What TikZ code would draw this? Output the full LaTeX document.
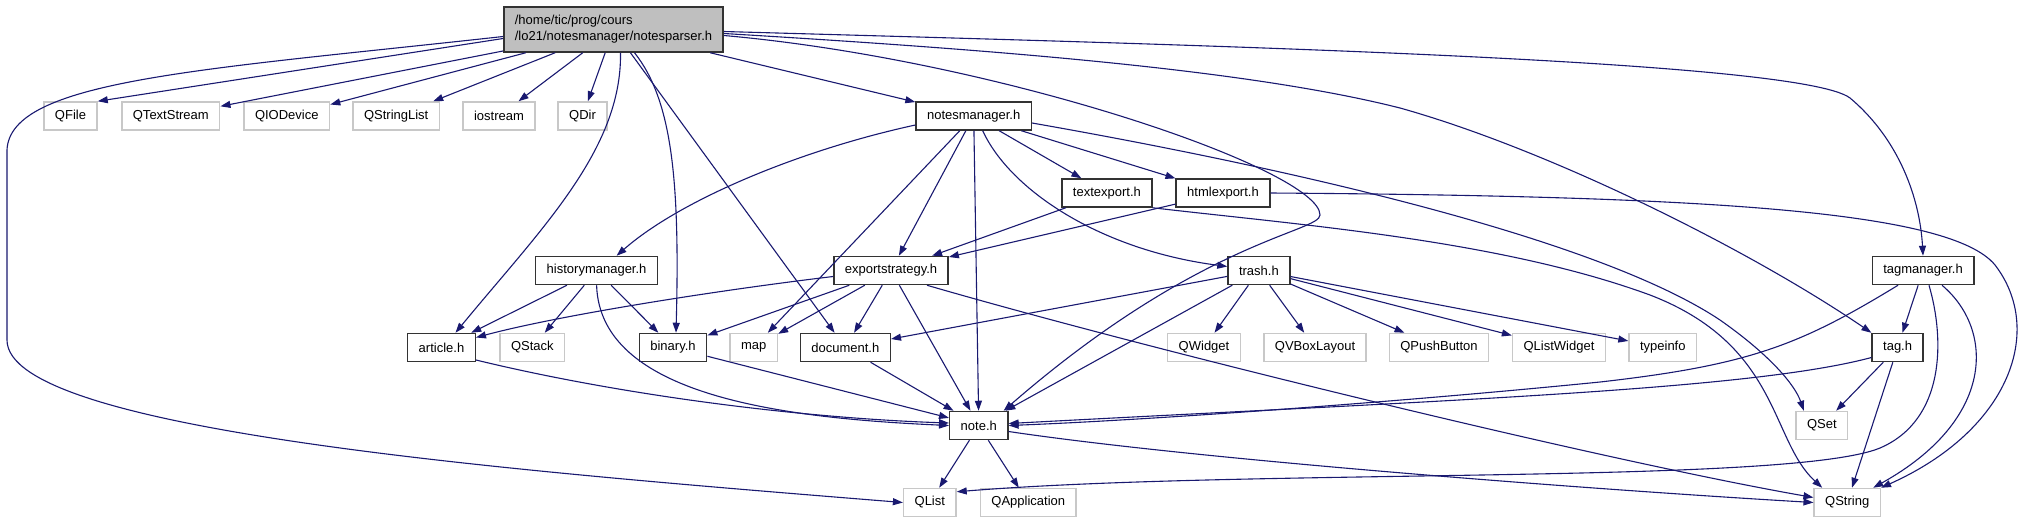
\documentclass[tikz,border=0pt]{standalone}
\usepackage{fontspec}
\setmainfont{Liberation Sans}
\usetikzlibrary{arrows.meta}
\definecolor{edgeblue}{HTML}{191970}
\definecolor{rootgray}{HTML}{BFBFBF}
\definecolor{extgray}{HTML}{C8C8C8}

\begin{document}
\begin{tikzpicture}
  [x=1pt,y=-1pt,
   every node/.style={rectangle,fill=white,draw=black!80,line width=1.5pt,inner xsep=11pt,
     minimum height=28pt,font=\fontsize{13}{16}\selectfont},
   ext/.style={draw=extgray},
   root/.style={fill=rootgray,minimum height=45pt,align=left},
   dep/.style={draw=edgeblue,line width=1.1pt,-{Triangle[length=10pt,width=7pt]}}]
  \useasboundingbox (0,0) rectangle (2024,523);

  \node[root] (parser) at (613.5,29.5) {/home/tic/prog/cours\\/lo21/notesmanager/notesparser.h};

  \node[ext] (qfile) at (70.5,116) {QFile};
  \node[ext] (qts) at (170.8,116) {QTextStream};
  \node[ext] (qio) at (286.8,116) {QIODevice};
  \node[ext] (qsl) at (396.2,116) {QStringList};
  \node[ext] (ios) at (499,116) {iostream};
  \node[ext] (qdir) at (582.6,116) {QDir};
  \node (nmgr) at (973.7,116) {notesmanager.h};

  \node (txt) at (1106.9,193) {textexport.h};
  \node (html) at (1223,193) {htmlexport.h};

  \node (hist) at (596.6,270.5) {historymanager.h};
  \node (expo) at (891,270.5) {exportstrategy.h};
  \node (trash) at (1258.9,270.5) {trash.h};
  \node (tagm) at (1923,270.5) {tagmanager.h};

  \node (art) at (441.5,347.5) {article.h};
  \node[ext] (qstack) at (532.4,347.5) {QStack};
  \node (bin) at (673,347.5) {binary.h};
  \node[ext] (map) at (753.8,347.5) {map};
  \node (doc) at (845.3,347.5) {document.h};
  \node[ext] (qwidget) at (1204,347.5) {QWidget};
  \node[ext] (qvbox) at (1315,347.5) {QVBoxLayout};
  \node[ext] (qpush) at (1439,347.5) {QPushButton};
  \node[ext] (qlw) at (1559,347.5) {QListWidget};
  \node[ext] (typeinfo) at (1662.8,347.5) {typeinfo};
  \node (tag) at (1897.6,347.5) {tag.h};

  \node (note) at (978.8,425.5) {note.h};
  \node[ext] (qset) at (1821.8,425.5) {QSet};

  \node[ext] (qlist) at (929.8,502.5) {QList};
  \node[ext] (qapp) at (1028.3,502.5) {QApplication};
  \node[ext] (qstring) at (1847.2,502.5) {QString};

  \foreach \from/\to in {parser/qts, parser/qio, parser/qsl, parser/ios, parser/qdir,
      parser/nmgr, parser/doc, nmgr/map, nmgr/expo, nmgr/note, nmgr/txt, nmgr/html,
      txt/expo, html/expo, hist/art, hist/qstack, hist/bin, expo/bin, expo/map,
      expo/doc, expo/note, bin/note, doc/note, trash/doc, trash/note, trash/qwidget,
      trash/qvbox, trash/qpush, trash/qlw, trash/typeinfo, tagm/tag, tag/qset,
      tag/qstring, note/qlist, note/qapp}
    \draw[dep] (\from) -- (\to);

  % longer curved edges
  \draw[dep] ([yshift=-9pt]parser.west) -- (qfile.north east);
  \draw[dep] ([yshift=-7pt]parser.west) .. controls (200,70) and (10,80) .. (7,150)
    -- (7,340) .. controls (7,430) and (500,470) .. (qlist.west);
  \draw[dep] ([xshift=7pt]parser.south) .. controls (622,150) and (540,230) .. ([xshift=14pt]art.north);
  \draw[dep] ([xshift=21pt]parser.south) .. controls (672,100) and (680,180) .. ([xshift=3pt]bin.north);
  \draw[dep] ([yshift=-6pt]parser.east) .. controls (1000,60) and (1320,170) .. (1320,215)
    .. controls (1320,232) and (1200,240) .. ([xshift=-5pt]note.north east);
  \draw[dep] ([yshift=-4pt]parser.east) .. controls (1000,50) and (1250,70) .. (1400,108)
    .. controls (1550,150) and (1750,250) .. (tag.north west);
  \draw[dep] ([yshift=-2pt]parser.east) .. controls (1200,45) and (1800,60) .. (1850,98)
    .. controls (1900,140) and (1920,200) .. (tagm.north);

  \draw[dep] ([yshift=-9pt]nmgr.west) .. controls (800,150) and (680,200) .. ([xshift=20pt]hist.north);
  \draw[dep] ([xshift=9pt]nmgr.south) .. controls (1010,190) and (1100,250) .. ([yshift=4pt]trash.west);
  \draw[dep] ([yshift=-7pt]nmgr.east) .. controls (1300,170) and (1600,240) .. (1720,320)
    .. controls (1770,355) and (1795,385) .. ([xshift=-18pt]qset.north);

  \draw[dep] (txt.south east) .. controls (1300,225) and (1500,240) .. (1650,295)
    .. controls (1780,345) and (1770,440) .. ([xshift=-25pt]qstring.north);
  \draw[dep] (html.east) .. controls (1700,196) and (1950,210) .. (1995,265)
    .. controls (2045,330) and (2010,430) .. (qstring.north east);

  \draw[dep] ([xshift=19pt]tagm.south) .. controls (1995,330) and (1995,420) .. ([xshift=26pt]qstring.north);
  \draw[dep] ([xshift=-25pt]tagm.south) .. controls (1800,345) and (1750,365) .. (1600,382)
    .. controls (1400,402) and (1150,420) .. (note.east);
  \draw[dep] ([xshift=6pt]tagm.south) .. controls (1945,340) and (1945,420) .. (1880,448)
    .. controls (1790,485) and (1250,468) .. ([yshift=-4pt]qlist.north east);
  \draw[dep] ([yshift=-10pt]tag.west) .. controls (1750,390) and (1450,400) .. ([yshift=2pt]note.east);

  \draw[dep] (hist.south) .. controls (600,395) and (780,418) .. (note.west);
  \draw[dep] ([yshift=-12.5pt]art.east) .. controls (620,395) and (800,418) .. ([yshift=2.5pt]note.west);
  \draw[dep] ([yshift=-6pt]expo.west) .. controls (720,290) and (560,315) .. ([yshift=10pt]art.east);
  \draw[dep] ([xshift=36pt]expo.south) .. controls (1150,350) and (1600,460) .. ([yshift=5pt]qstring.west);
  \draw[dep] ([yshift=-6pt]note.east) .. controls (1200,460) and (1600,490) .. (qstring.west);
\end{tikzpicture}
\end{document}
